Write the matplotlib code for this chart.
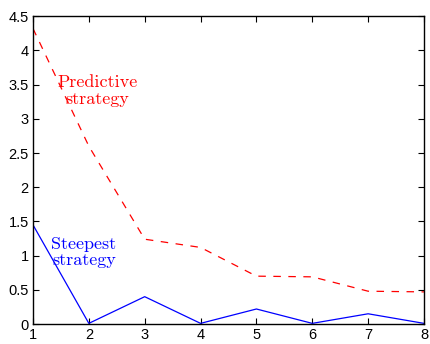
import matplotlib
matplotlib.use("Agg")
import matplotlib.pyplot as plt

iterations = [1, 2, 3, 4, 5, 6, 7, 8]
predictive = [4.32, 2.60, 1.24, 1.12, 0.70, 0.69, 0.48, 0.47]
steepest = [1.45, 0.01, 0.40, 0.01, 0.22, 0.01, 0.15, 0.01]

plt.rcParams['font.family'] = ['Liberation Sans', 'DejaVu Sans']

fig = plt.figure(figsize=(4.30, 3.44), dpi=100)
ax = fig.add_axes([0.0767, 0.058, 0.9093, 0.895])

ax.plot(iterations, predictive, color='#ff0000', linestyle=(0, (6, 6)), linewidth=0.9)
ax.plot(iterations, steepest, color='#0000ff', linestyle='-', linewidth=0.9)

ax.text(2.15, 3.41, 'Predictive\nstrategy', color='#ff0000', ha='center', va='center',
        fontfamily='cmr10', fontsize=13, linespacing=1.08)
ax.text(1.91, 1.05, 'Steepest\nstrategy', color='#0000ff', ha='center', va='center',
        fontfamily='cmr10', fontsize=13, linespacing=1.08)

ax.set_xlim(1, 8)
ax.set_ylim(0, 4.5)
ax.set_xticks(range(1, 9))
ax.set_yticks([0, 0.5, 1, 1.5, 2, 2.5, 3, 3.5, 4, 4.5])
ax.set_yticklabels(['0', '0.5', '1', '1.5', '2', '2.5', '3', '3.5', '4', '4.5'])
ax.tick_params(direction='in', top=True, right=True, length=4, width=0.8,
               labelsize=10.5, pad=3)
for s in ax.spines.values():
    s.set_linewidth(1.0)

fig.savefig('out.png', dpi=100)
